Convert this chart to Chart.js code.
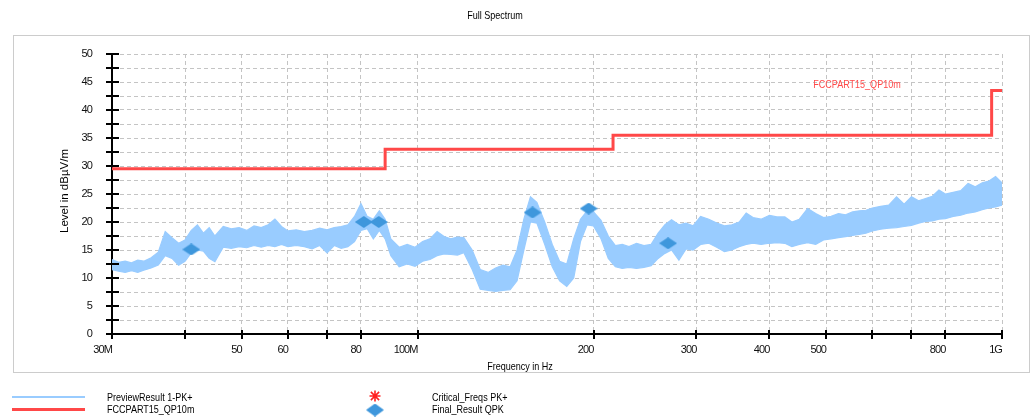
<!DOCTYPE html>
<html><head><meta charset="utf-8">
<script src="https://cdn.jsdelivr.net/npm/chart.js@4.4.1/dist/chart.umd.min.js"></script>
<style>html,body{margin:0;padding:0;background:#fff;overflow:hidden}#wrap{width:1033px;height:419px;position:relative}</style>
</head><body><div id="wrap"><canvas id="c" width="1033" height="419"></canvas></div>
<script>
// ---- data (MHz / dBµV/m) ----
const freqs = [30,30.8,31.6,32.4,33.2,34,35,36,37,38,39,40,41,42,43,44,45,46.5,48,49.5,51,52.5,54,55.5,57,58.5,60,62,64,66,68,70,72,74,76,78,80,82,84,86,88,90,93,96,99,102,105,108,111,114,117,120,124,128,132,136,140,144,148,152,156,160,165,170,175,180,185,190,195,200,206,212,218,224,230,237,244,251,258,265,272,280,288,296,305,315,325,335,345,355,365,375,387,400,412,425,437,450,465,480,495,510,525,540,555,570,585,600,620,640,660,680,700,720,740,760,780,800,825,850,875,900,925,950,975,1000];
const traceHi = [13.3,12.8,13.0,12.7,13.2,13.0,13.6,14.6,18.3,17.2,16.2,16.8,18.5,19.5,18.0,19.0,17.5,19.2,18.8,19.0,18.5,19.3,19.0,19.5,20.5,19.2,18.4,18.6,18.3,18.5,18.9,18.6,19.0,19.2,19.5,21.0,23.3,21.0,20.5,22.0,20.5,17.0,15.5,16.0,15.5,16.5,17.0,18.3,17.4,17.0,17.3,17.2,15.0,11.5,11.0,11.8,12.3,12.0,15.0,20.5,24.5,23.5,20.0,16.0,13.0,12.5,17.0,20.5,22.0,21.8,20.3,17.5,15.8,16.0,15.6,16.2,15.8,16.0,18.0,19.5,20.4,19.5,19.8,19.3,21.0,20.5,19.8,19.3,19.5,20.0,21.6,20.8,20.5,21.2,20.9,20.9,20.0,20.5,22.4,21.5,20.8,21.0,21.5,21.3,21.8,22.0,22.1,22.5,22.8,23.0,24.5,23.2,24.5,23.8,24.2,24.6,25.7,25.0,25.3,25.6,26.9,26.3,27.0,27.3,28.1,27.0];
const traceLo = [11.5,11.2,11.0,11.3,11.0,11.4,11.8,12.3,14.0,13.5,12.3,13.0,14.5,15.0,14.8,13.5,12.9,15.5,15.3,15.6,15.4,15.8,15.5,15.8,15.6,16.0,15.6,15.8,15.6,15.2,15.8,14.5,15.8,15.3,15.6,16.5,18.5,18.8,17.0,18.5,17.0,14.0,12.0,12.5,12.1,13.0,13.3,14.0,14.3,14.2,14.1,14.5,11.5,8.0,7.8,7.6,7.8,7.9,9.5,15.0,20.0,19.8,16.0,12.0,9.5,8.5,10.0,16.5,19.5,19.3,17.0,13.5,12.0,11.7,11.9,11.7,11.9,12.2,13.5,14.4,15.0,13.2,15.2,15.0,16.0,16.2,15.5,14.7,15.0,15.6,16.0,16.2,16.0,16.2,16.3,16.2,15.6,16.0,16.3,16.0,16.8,17.0,17.2,17.4,17.6,17.8,18.0,18.4,18.7,18.9,19.0,19.2,19.4,19.8,20.1,20.2,20.5,20.6,21.0,21.2,21.6,21.8,22.2,22.5,22.7,23.0];
const limitFreqs = [30, 88, 88, 216, 216, 960, 960, 1000];
const limitVals = [29.5, 29.5, 33.0, 33.0, 35.5, 35.5, 43.5, 43.5];
const critFreqs = [];
const critVals = [];
const finalFreqs = [41.0, 80.9, 85.8, 157.3, 196.2, 268.3];
const finalVals = [15.1, 20.0, 20.0, 21.7, 22.4, 16.2];
const xTickVals = [30,40,50,60,70,80,100,200,300,400,500,600,700,800,1000];
const xTickLabels = ['30M','','50','60','','80','100M','200','300','400','500','','','800','1G'];
const yMin = 0, yMax = 50, yStep = 2.5;

const FONT = "'Liberation Sans',Arial,sans-serif";
const C_TRACE = '#99ccff', C_LIMIT = '#ff4848', C_FINAL = '#3f97dc';
const SQUEEZE = 0.82;

function makeDiamond(w, h, color) {
  const c = document.createElement('canvas'); c.width = w; c.height = h;
  const g = c.getContext('2d'); g.fillStyle = color;
  g.beginPath(); g.moveTo(w/2, 0); g.lineTo(w, h/2); g.lineTo(w/2, h); g.lineTo(0, h/2); g.closePath(); g.fill();
  return c;
}
const diamond = makeDiamond(18, 12, C_FINAL);
const legendDiamond = makeDiamond(18, 13, C_FINAL);

const zip = (xs, ys) => xs.map((x, i) => ({x, y: ys[i]}));

function narrowText(ctx, text, x, y, align) {
  ctx.save(); ctx.translate(x, y); ctx.scale(SQUEEZE, 1);
  ctx.textAlign = align; ctx.fillText(text, 0, 0); ctx.restore();
}

const decor = {
  id: 'decor',
  beforeDraw(chart) { try { chart.ctx.letterSpacing = '-0.9px'; } catch (e) {} },
  afterDraw(chart) {
    const ctx = chart.ctx, ca = chart.chartArea, xs = chart.scales.x, ys = chart.scales.y;
    try { ctx.letterSpacing = '0px'; } catch (e) {}
    ctx.save();
    // frame
    ctx.strokeStyle = '#cccccc'; ctx.lineWidth = 1;
    ctx.strokeRect(13.5, 35.5, 1016, 337);
    // tick marks crossing the axes
    ctx.strokeStyle = '#000'; ctx.lineWidth = 2;
    ctx.beginPath();
    ys.ticks.forEach(t => { const y = Math.round(ys.getPixelForValue(t.value)); ctx.moveTo(ca.left - 6, y); ctx.lineTo(ca.left + 7, y); });
    xs.ticks.forEach(t => { const x = Math.round(xs.getPixelForValue(t.value)); ctx.moveTo(x, ca.bottom - 4); ctx.lineTo(x, ca.bottom + 5); });
    ctx.stroke();
    // texts
    ctx.fillStyle = '#000'; ctx.textBaseline = 'middle';
    ctx.font = '11px ' + FONT;
    narrowText(ctx, 'Full Spectrum', 495, 16, 'center');
    narrowText(ctx, 'Frequency in Hz', 520, 367, 'center');
    ctx.save(); ctx.translate(65, 191); ctx.rotate(-Math.PI/2);
    ctx.font = '11.5px ' + FONT; ctx.textAlign = 'center'; ctx.fillText('Level in dBµV/m', 0, 0); ctx.restore();
    // limit label
    ctx.fillStyle = C_LIMIT; ctx.font = '11px ' + FONT;
    narrowText(ctx, 'FCCPART15_QP10m', 857, 85, 'center');
    // legend
    ctx.lineCap = 'butt';
    ctx.strokeStyle = C_TRACE; ctx.lineWidth = 2;
    ctx.beginPath(); ctx.moveTo(12, 397); ctx.lineTo(85, 397); ctx.stroke();
    ctx.strokeStyle = C_LIMIT; ctx.lineWidth = 3;
    ctx.beginPath(); ctx.moveTo(12, 409.5); ctx.lineTo(85, 409.5); ctx.stroke();
    ctx.strokeStyle = '#ff2020'; ctx.lineWidth = 1.6;
    const ax = 375, ay = 396, r = 5.5;
    ctx.beginPath();
    ctx.moveTo(ax - r, ay); ctx.lineTo(ax + r, ay);
    ctx.moveTo(ax, ay - r); ctx.lineTo(ax, ay + r);
    ctx.moveTo(ax - r*0.75, ay - r*0.75); ctx.lineTo(ax + r*0.75, ay + r*0.75);
    ctx.moveTo(ax - r*0.75, ay + r*0.75); ctx.lineTo(ax + r*0.75, ay - r*0.75);
    ctx.stroke();
    ctx.drawImage(legendDiamond, 375 - 9, 410 - 6.5);
    ctx.fillStyle = '#000'; ctx.font = '11px ' + FONT;
    narrowText(ctx, 'PreviewResult 1-PK+', 107, 398, 'left');
    narrowText(ctx, 'FCCPART15_QP10m', 107, 410, 'left');
    narrowText(ctx, 'Critical_Freqs PK+', 432, 398, 'left');
    narrowText(ctx, 'Final_Result QPK', 432, 410, 'left');
    ctx.restore();
  }
};

Chart.defaults.font.family = FONT;
Chart.defaults.font.size = 11;
Chart.defaults.color = '#111';

new Chart(document.getElementById('c'), {
  type: 'line',
  data: {
    datasets: [
      { label: 'PreviewResult 1-PK+', data: zip(freqs, traceHi), borderColor: C_TRACE, backgroundColor: C_TRACE,
        borderWidth: 1.2, pointRadius: 0, fill: '+1', order: 3 },
      { label: 'PreviewResult 1-PK+ (min)', data: zip(freqs, traceLo), borderColor: C_TRACE, backgroundColor: C_TRACE,
        borderWidth: 1.2, pointRadius: 0, fill: false, order: 3 },
      { label: 'FCCPART15_QP10m', data: zip(limitFreqs, limitVals), borderColor: C_LIMIT, borderWidth: 3,
        pointRadius: 0, fill: false, order: 2 },
      { label: 'Critical_Freqs PK+', data: zip(critFreqs, critVals), showLine: false, pointStyle: 'star',
        borderColor: '#ff2020', pointRadius: 6, order: 1 },
      { label: 'Final_Result QPK', data: zip(finalFreqs, finalVals), showLine: false, pointStyle: diamond,
        pointRadius: 9, order: 0 }
    ]
  },
  options: {
    responsive: false, animation: false, devicePixelRatio: 1,
    layout: { padding: { top: 54, right: 31, left: 0, bottom: 0 } },
    plugins: { legend: { display: false }, title: { display: false }, tooltip: { enabled: false } },
    elements: { line: { tension: 0 } },
    scales: {
      x: {
        type: 'logarithmic', min: 30, max: 1000,
        afterBuildTicks: s => { s.ticks = xTickVals.map(v => ({ value: v })); },
        afterFit: s => { s.height = 85; },
        ticks: { autoSkip: false, maxRotation: 0, minRotation: 0, align: 'end', padding: 9, color: '#111',
                 callback: (v, i) => xTickLabels[i] },
        grid: { color: '#c4c4c4', lineWidth: 1, drawTicks: false },
        border: { display: true, color: '#000', width: 2, dash: [4, 3] }
      },
      y: {
        type: 'linear', min: yMin, max: yMax,
        afterFit: s => { s.width = 112; },
        ticks: { stepSize: yStep, autoSkip: false, padding: 20, color: '#111',
                 callback: v => (v % 5 === 0 ? String(v) : '') },
        grid: { color: '#c4c4c4', lineWidth: 1, drawTicks: false },
        border: { display: true, color: '#000', width: 2, dash: [4, 3] }
      }
    }
  },
  plugins: [decor]
});
</script></body></html>
